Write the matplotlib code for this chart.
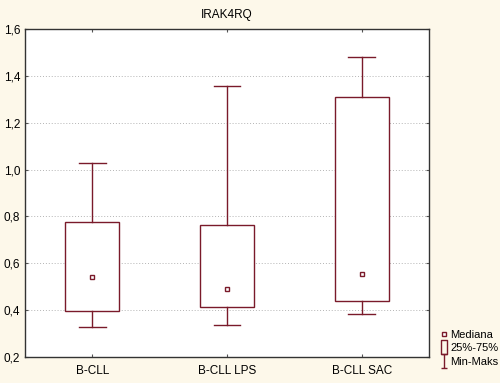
import numpy as np
import matplotlib.pyplot as plt
from matplotlib.lines import Line2D
from matplotlib.path import Path

plt.rcParams['font.family'] = ['Liberation Sans', 'DejaVu Sans']

groups = ['B-CLL', 'B-CLL LPS', 'B-CLL SAC']
mins = [0.33, 0.337, 0.382]
q1 = [0.395, 0.412, 0.438]
medians = [0.543, 0.492, 0.554]
q3 = [0.776, 0.762, 1.31]
maxs = [1.028, 1.358, 1.48]

ytick_vals = [0.2, 0.4, 0.6, 0.8, 1.0, 1.2, 1.4, 1.6]
ytick_labels = ['0,2', '0,4', '0,6', '0,8', '1,0', '1,2', '1,4', '1,6']

red = '#7a1a2a'
bg = '#fdf8ea'

fig = plt.figure(figsize=(5, 3.83), dpi=100, facecolor=bg)
ax = fig.add_axes([0.05, 0.068, 0.808, 0.856])
ax.set_facecolor('white')

stats = []
for i in range(len(groups)):
    stats.append({'label': groups[i], 'whislo': mins[i], 'q1': q1[i], 'med': medians[i],
                  'q3': q3[i], 'whishi': maxs[i], 'fliers': []})

ax.bxp(stats, positions=[1, 2, 3], widths=0.4, showmeans=False, patch_artist=True,
       boxprops=dict(facecolor='white', edgecolor=red, linewidth=1.0),
       whiskerprops=dict(color=red, linewidth=1.0),
       capprops=dict(color=red, linewidth=1.0),
       medianprops=dict(linewidth=0), capwidths=0.2, zorder=3)
ax.plot([1, 2, 3], medians, linestyle='none', marker='s', markersize=3.5,
        markerfacecolor='white', markeredgecolor=red, markeredgewidth=1.0, zorder=4)

ax.set_xlim(0.5, 3.5)
ax.set_ylim(0.2, 1.6)
ax.set_yticks(ytick_vals)
ax.set_yticklabels(ytick_labels)
ax.set_xticks([1, 2, 3])
ax.set_xticklabels(groups)
ax.tick_params(direction='in', length=2, labelsize=8.5, top=True, right=True, color='#555555')
ax.tick_params(axis='x', pad=6)
ax.grid(axis='y', linestyle=(0, (1, 2)), color='#b4b4b4', linewidth=0.7, zorder=0)
ax.set_axisbelow(True)
for s in ax.spines.values():
    s.set_linewidth(1.0)
    s.set_color('#333333')

ax.set_title('IRAK4RQ', fontsize=8.5, pad=8)

# legend markers
whisk = Path([(-0.4, -1), (0.4, -1), (0, -1), (0, 1), (-0.4, 1), (0.4, 1)],
             [Path.MOVETO, Path.LINETO, Path.MOVETO, Path.LINETO, Path.MOVETO, Path.LINETO])
boxm = Path([(-0.5, -1), (0.5, -1), (0.5, 1), (-0.5, 1), (-0.5, -1)],
            [Path.MOVETO, Path.LINETO, Path.LINETO, Path.LINETO, Path.CLOSEPOLY])
handles = [
    Line2D([], [], linestyle='none', marker='s', markersize=3.5, markerfacecolor='white',
           markeredgecolor=red, markeredgewidth=1.0),
    Line2D([], [], linestyle='none', marker=boxm, markersize=10, markerfacecolor='none',
           markeredgecolor=red, markeredgewidth=1.0),
    Line2D([], [], linestyle='none', marker=whisk, markersize=10, markerfacecolor='none',
           markeredgecolor=red, markeredgewidth=1.0),
]
fig.legend(handles, ['Mediana', '25%-75%', 'Min-Maks'], loc='upper left',
           bbox_to_anchor=(0.87, 0.153), frameon=False, fontsize=8,
           handlelength=0.7, handletextpad=0.15, labelspacing=0.3, borderpad=0)

fig.savefig('out.png', dpi=100, facecolor=bg)
